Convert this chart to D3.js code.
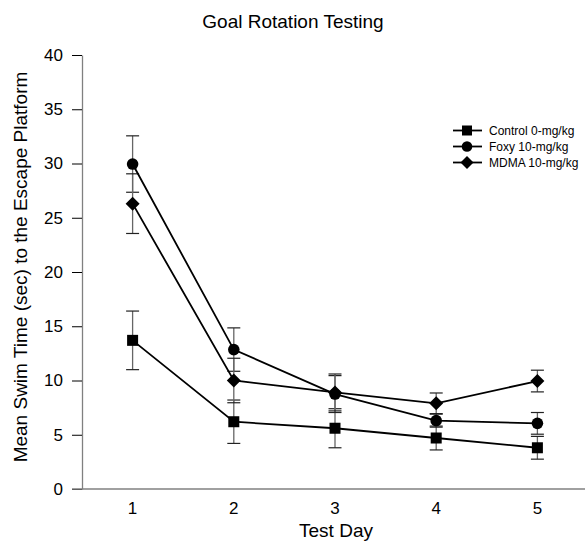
<!DOCTYPE html>
<html>
<head>
<meta charset="utf-8">
<script src="https://cdn.jsdelivr.net/npm/d3@7"></script>
<style>
  body { margin: 0; background: #fff; }
  svg { font-family: "Liberation Sans", Arial, sans-serif; }
</style>
</head>
<body>
<div id="chart"></div>
<script>
// Goal rotation test: mean swim time per test day, three groups
const days = [1, 2, 3, 4, 5];
const yTicks = [0, 5, 10, 15, 20, 25, 30, 35, 40];

const controlMean = [13.7, 6.2, 5.6, 4.7, 3.8];
const controlErr  = [2.7, 2.0, 1.8, 1.1, 1.05];
const foxyMean    = [29.95, 12.85, 8.75, 6.3, 6.05];
const foxyErr     = [2.6, 2.0, 1.7, 0.6, 1.0];
const mdmaMean    = [26.3, 10.0, 8.9, 7.9, 9.95];
const mdmaErr     = [2.75, 2.05, 1.7, 0.95, 1.0];

const seriesNames = ['Control 0-mg/kg', 'Foxy 10-mg/kg', 'MDMA 10-mg/kg'];
const seriesShapes = ['square', 'circle', 'diamond'];

const series = [
    { name: seriesNames[0], shape: seriesShapes[0], mean: controlMean, err: controlErr },
    { name: seriesNames[1], shape: seriesShapes[1], mean: foxyMean, err: foxyErr },
    { name: seriesNames[2], shape: seriesShapes[2], mean: mdmaMean, err: mdmaErr }
];

const W = 585, H = 541;
const svg = d3.select('#chart').append('svg')
    .attr('width', W)
    .attr('height', H);

const x = d3.scaleLinear().domain([0.5, 5.5]).range([82, 588]);
const y = d3.scaleLinear().domain([0, 40]).range([489, 55]);

const axisColor = '#808080';

// Title
svg.append('text')
    .attr('x', 293).attr('y', 28)
    .attr('text-anchor', 'middle')
    .style('font-size', '19px')
    .text('Goal Rotation Testing');

// Y axis
const yAxis = svg.append('g')
    .attr('transform', `translate(${x(0.5)},0)`)
    .call(d3.axisLeft(y).tickValues(yTicks).tickSize(10).tickPadding(9).tickSizeOuter(0));
yAxis.select('.domain').attr('stroke', axisColor).attr('stroke-width', 1.3);
yAxis.selectAll('.tick line').attr('stroke', '#000');
yAxis.selectAll('.tick text').style('font-size', '17px').attr('fill', '#000')
    .style('font-family', '"Liberation Sans", Arial, sans-serif');

// X axis (plain line, labels only)
svg.append('line')
    .attr('x1', 72).attr('x2', W)
    .attr('y1', y(0)).attr('y2', y(0))
    .attr('stroke', axisColor).attr('stroke-width', 1.3);

svg.selectAll('.xlab')
    .data(days)
    .enter()
    .append('text')
    .attr('class', 'xlab')
    .attr('x', d => x(d))
    .attr('y', 514)
    .attr('text-anchor', 'middle')
    .style('font-size', '17px')
    .text(d => d);

svg.append('text')
    .attr('x', 336).attr('y', 537)
    .attr('text-anchor', 'middle')
    .style('font-size', '19px')
    .text('Test Day');

svg.append('text')
    .attr('transform', 'translate(27,267) rotate(-90)')
    .attr('text-anchor', 'middle')
    .style('font-size', '19px')
    .text('Mean Swim Time (sec) to the Escape Platform');

// Marker drawing
const drawMarker = (sel, shape, size) => {
    if (shape === 'square') {
        sel.append('rect')
            .attr('x', -size / 2).attr('y', -size / 2)
            .attr('width', size).attr('height', size)
            .attr('fill', '#000');
    } else if (shape === 'circle') {
        sel.append('circle').attr('r', size / 2 + 0.3).attr('fill', '#000');
    } else {
        const r = size / 2 + 1.5;
        sel.append('path')
            .attr('d', `M0,${-r}L${r},0L0,${r}L${-r},0Z`)
            .attr('fill', '#000');
    }
};

const plot = svg.append('g');

// Error bars first
series.forEach(s => {
    const g = plot.append('g');
    days.forEach((d, i) => {
        const top = y(s.mean[i] + s.err[i]);
        const bot = y(s.mean[i] - s.err[i]);
        g.append('line')
            .attr('x1', x(d)).attr('x2', x(d))
            .attr('y1', top).attr('y2', bot)
            .attr('stroke', '#666').attr('stroke-width', 1.3);
        [top, bot].forEach(v => {
            g.append('line')
                .attr('x1', x(d) - 6.5).attr('x2', x(d) + 6.5)
                .attr('y1', v).attr('y2', v)
                .attr('stroke', '#222').attr('stroke-width', 1.2);
        });
    });
});

// Lines
const line = d3.line().x((d, i) => x(days[i])).y(d => y(d));
series.forEach(s => {
    plot.append('path')
        .datum(s.mean)
        .attr('fill', 'none')
        .attr('stroke', '#000')
        .attr('stroke-width', 1.8)
        .attr('d', line);
});

// Markers
series.forEach(s => {
    s.mean.forEach((v, i) => {
        const m = plot.append('g').attr('transform', `translate(${x(days[i])},${y(v)})`);
        drawMarker(m, s.shape, 11);
    });
});

// Legend
const legend = svg.append('g');
series.forEach((s, i) => {
    const ly = 130.5 + i * 16;
    const row = legend.append('g');
    row.append('line')
        .attr('x1', 453).attr('x2', 482)
        .attr('y1', ly).attr('y2', ly)
        .attr('stroke', '#000').attr('stroke-width', 1.8);
    const m = row.append('g').attr('transform', `translate(467,${ly})`);
    drawMarker(m, s.shape, 10);
    row.append('text')
        .attr('x', 489).attr('y', ly + 4.5)
        .style('font-size', '12px')
        .text(s.name);
});
</script>
</body>
</html>
